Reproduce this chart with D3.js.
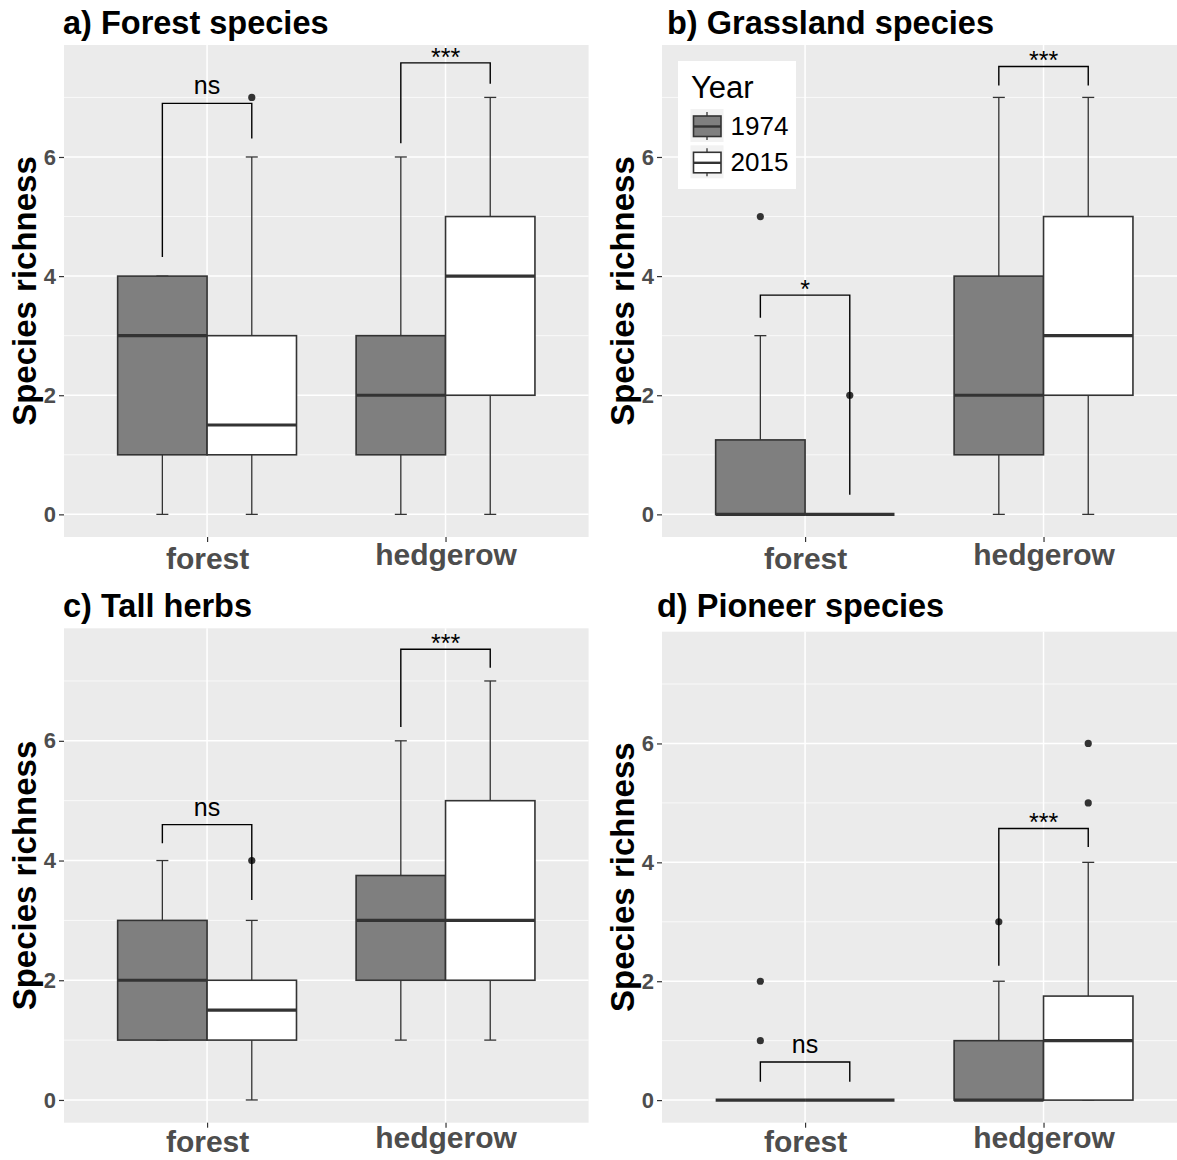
<!DOCTYPE html>
<html>
<head>
<meta charset="utf-8">
<script src="https://cdn.jsdelivr.net/npm/d3@7"></script>
<style>
  body { margin: 0; background: #fff; }
  svg { display: block; font-family: "Liberation Sans", Arial, sans-serif; }
</style>
</head>
<body>
<div id="chart"></div>
<script>
// ---- data ----
const categories = ["forest", "hedgerow"];
const years = ["1974", "2015"];
const panelTitles = ["a) Forest species", "b) Grassland species", "c) Tall herbs", "d) Pioneer species"];
const yTicks = [0, 2, 4, 6];
const yMinor = [1, 3, 5, 7];
const yLabel = "Species richness";
const legendTitle = "Year";

// box stats [min, q1, median, q3, max] : forest-1974, forest-2015, hedgerow-1974, hedgerow-2015
const forestSpecies = [[0, 1, 3, 4, 4], [0, 1, 1.5, 3, 6], [0, 1, 2, 3, 6], [0, 2, 4, 5, 7]];
const forestOutliers = [[], [7], [], []];
const grasslandSpecies = [[0, 0, 0, 1.25, 3], [0, 0, 0, 0, 0], [0, 1, 2, 4, 7], [0, 2, 3, 5, 7]];
const grasslandOutliers = [[5], [2], [], []];
const tallHerbs = [[1, 1, 2, 3, 4], [0, 1, 1.5, 2, 3], [1, 2, 3, 3.75, 6], [1, 2, 3, 5, 7]];
const tallHerbsOutliers = [[], [4], [], []];
const pioneerSpecies = [[0, 0, 0, 0, 0], [0, 0, 0, 0, 0], [0, 0, 0, 1, 2], [0, 0, 1, 1.75, 4]];
const pioneerOutliers = [[1, 2], [], [3], [5, 6]];

// significance brackets [category, top, left tip, right tip, label]
const forestBrackets = [["forest", 6.9, 4.32, 6.31, "ns"], ["hedgerow", 7.58, 6.23, 7.23, "***"]];
const grasslandBrackets = [["forest", 3.68, 3.3, 0.33, "*"], ["hedgerow", 7.52, 7.2, 7.2, "***"]];
const tallHerbBrackets = [["forest", 4.6, 4.29, 3.34, "ns"], ["hedgerow", 7.53, 6.23, 7.22, "***"]];
const pioneerBrackets = [["forest", 0.64, 0.31, 0.31, "ns"], ["hedgerow", 4.57, 2.26, 4.26, "***"]];

const panels = [
  { title: panelTitles[0], stats: forestSpecies, outliers: forestOutliers, brackets: forestBrackets },
  { title: panelTitles[1], stats: grasslandSpecies, outliers: grasslandOutliers, brackets: grasslandBrackets, legend: true },
  { title: panelTitles[2], stats: tallHerbs, outliers: tallHerbsOutliers, brackets: tallHerbBrackets },
  { title: panelTitles[3], stats: pioneerSpecies, outliers: pioneerOutliers, brackets: pioneerBrackets }
];

// ---- layout ----
const width = 1177;
const height = 1160;
const yDomain = [-0.38, 7.88];
const fills = { "1974": "#7f7f7f", "2015": "#ffffff" };
const boxStroke = "#333333";

const layout = [
  { x0: 64, x1: 588.6, y0: 45, y1: 537, tx: 63, ty: 34, xlab: 569 },
  { x0: 662, x1: 1186.6, y0: 45, y1: 537, tx: 667, ty: 34, xlab: 569 },
  { x0: 64, x1: 588.6, y0: 628.3, y1: 1122.7, tx: 63, ty: 617, xlab: 1152 },
  { x0: 662, x1: 1186.6, y0: 631.7, y1: 1122.7, tx: 657, ty: 617, xlab: 1152 }
];

const svg = d3.select("#chart")
  .append("svg")
  .attr("width", width)
  .attr("height", height);

panels.forEach((p, i) => {
  const L = layout[i];
  const g = svg.append("g");

  const x = d3.scalePoint()
    .domain(categories)
    .range([L.x0, L.x1])
    .padding(0.6);

  const dodge = d3.scaleBand()
    .domain(years)
    .range([-0.375 * x.step(), 0.375 * x.step()]);

  const y = d3.scaleLinear()
    .domain(yDomain)
    .range([L.y1, L.y0]);

  const cx = (cat, yr) => x(cat) + dodge(yr) + dodge.bandwidth() / 2;

  // panel background and grid
  g.append("rect")
    .attr("x", L.x0).attr("y", L.y0)
    .attr("width", L.x1 - L.x0).attr("height", L.y1 - L.y0)
    .attr("fill", "#ebebeb");

  g.append("g").selectAll("line")
    .data(yMinor)
    .join("line")
      .attr("x1", L.x0).attr("x2", L.x1)
      .attr("y1", d => y(d)).attr("y2", d => y(d))
      .attr("stroke", "#fff").attr("stroke-width", 0.7);

  g.append("g").selectAll("line")
    .data(yTicks)
    .join("line")
      .attr("x1", L.x0).attr("x2", L.x1)
      .attr("y1", d => y(d)).attr("y2", d => y(d))
      .attr("stroke", "#fff").attr("stroke-width", 1.5);

  g.append("g").selectAll("line")
    .data(categories)
    .join("line")
      .attr("x1", d => x(d)).attr("x2", d => x(d))
      .attr("y1", L.y0).attr("y2", L.y1)
      .attr("stroke", "#fff").attr("stroke-width", 1.5);

  // axes
  const yAxis = g.append("g")
    .attr("transform", `translate(${L.x0},0)`)
    .call(d3.axisLeft(y).tickValues(yTicks).tickSize(5).tickPadding(3));
  yAxis.select(".domain").remove();
  yAxis.selectAll("line").attr("stroke", "#333").attr("stroke-width", 1.2);
  yAxis.selectAll("text")
    .attr("fill", "#4d4d4d")
    .attr("font-size", 22)
    .attr("font-weight", "bold")
    .attr("font-family", null);

  const xAxis = g.append("g")
    .attr("transform", `translate(0,${L.y1})`)
    .call(d3.axisBottom(x).tickSize(5));
  xAxis.select(".domain").remove();
  xAxis.selectAll("line").attr("stroke", "#333").attr("stroke-width", 1.2);
  xAxis.selectAll("text")
    .attr("fill", "#4d4d4d")
    .attr("font-size", 30)
    .attr("font-weight", "bold")
    .attr("font-family", null)
    .attr("y", L.xlab - L.y1)
    .attr("dy", d => /[gjpqy]/.test(d) ? -4 : 0);

  // axis title and panel title
  g.append("text")
    .attr("transform", `translate(${L.x0 - 28},${(L.y0 + L.y1) / 2}) rotate(-90)`)
    .attr("text-anchor", "middle")
    .attr("font-size", 33)
    .attr("font-weight", "bold")
    .text(yLabel);

  g.append("text")
    .attr("x", L.tx).attr("y", L.ty)
    .attr("font-size", 32.5)
    .attr("font-weight", "bold")
    .text(p.title);

  // box records
  const boxes = [];
  categories.forEach((cat, ci) => {
    years.forEach((yr, yi) => {
      const s = p.stats[ci * 2 + yi];
      boxes.push({ cat, yr, min: s[0], q1: s[1], med: s[2], q3: s[3], max: s[4], out: p.outliers[ci * 2 + yi] });
    });
  });

  const capW = 12;
  // error bars (whiskers + caps)
  const eb = g.append("g").attr("stroke", boxStroke).attr("stroke-width", 1.3);
  eb.selectAll(".w")
    .data(boxes)
    .join("line")
      .attr("x1", d => cx(d.cat, d.yr)).attr("x2", d => cx(d.cat, d.yr))
      .attr("y1", d => y(d.min)).attr("y2", d => y(d.max));
  eb.selectAll(".cmin")
    .data(boxes)
    .join("line")
      .attr("x1", d => cx(d.cat, d.yr) - capW / 2).attr("x2", d => cx(d.cat, d.yr) + capW / 2)
      .attr("y1", d => y(d.min)).attr("y2", d => y(d.min));
  eb.selectAll(".cmax")
    .data(boxes)
    .join("line")
      .attr("x1", d => cx(d.cat, d.yr) - capW / 2).attr("x2", d => cx(d.cat, d.yr) + capW / 2)
      .attr("y1", d => y(d.max)).attr("y2", d => y(d.max));

  // boxes
  g.append("g").selectAll("rect")
    .data(boxes)
    .join("rect")
      .attr("x", d => x(d.cat) + dodge(d.yr))
      .attr("y", d => y(d.q3))
      .attr("width", dodge.bandwidth())
      .attr("height", d => y(d.q1) - y(d.q3))
      .attr("fill", d => fills[d.yr])
      .attr("stroke", boxStroke)
      .attr("stroke-width", 1.6);

  g.append("g").selectAll("line")
    .data(boxes)
    .join("line")
      .attr("x1", d => x(d.cat) + dodge(d.yr))
      .attr("x2", d => x(d.cat) + dodge(d.yr) + dodge.bandwidth())
      .attr("y1", d => y(d.med)).attr("y2", d => y(d.med))
      .attr("stroke", boxStroke)
      .attr("stroke-width", 3.2);

  // outliers
  const outPts = boxes.flatMap(d => d.out.map(v => ({ cat: d.cat, yr: d.yr, v })));
  g.append("g").selectAll("circle")
    .data(outPts)
    .join("circle")
      .attr("cx", d => cx(d.cat, d.yr))
      .attr("cy", d => y(d.v))
      .attr("r", 3.6)
      .attr("fill", "#333");

  // significance brackets
  const sig = g.append("g");
  sig.selectAll("path")
    .data(p.brackets)
    .join("path")
      .attr("d", d => `M${cx(d[0], years[0])},${y(d[2])}V${y(d[1])}H${cx(d[0], years[1])}V${y(d[3])}`)
      .attr("fill", "none")
      .attr("stroke", "#000")
      .attr("stroke-width", 1.4);
  sig.selectAll("text")
    .data(p.brackets)
    .join("text")
      .attr("x", d => x(d[0]))
      .attr("y", d => y(d[1]) + (d[4].includes("*") ? 3 : -9))
      .attr("text-anchor", "middle")
      .attr("font-size", 25)
      .text(d => d[4]);

  // legend
  if (p.legend) {
    const lg = g.append("g");
    lg.append("rect")
      .attr("x", 678).attr("y", 61)
      .attr("width", 118).attr("height", 128)
      .attr("fill", "#fff");
    lg.append("text")
      .attr("x", 691).attr("y", 98)
      .attr("font-size", 31)
      .text(legendTitle);
    const keys = lg.selectAll(".key")
      .data(years)
      .join("g")
        .attr("transform", (d, k) => `translate(690.5,${109 + k * 36.3})`);
    keys.append("rect")
      .attr("width", 33).attr("height", 33)
      .attr("fill", "#f2f2f2");
    keys.append("line")
      .attr("x1", 16.5).attr("x2", 16.5)
      .attr("y1", 3).attr("y2", 31)
      .attr("stroke", boxStroke).attr("stroke-width", 1.3);
    keys.append("rect")
      .attr("x", 3).attr("y", 7)
      .attr("width", 27.5).attr("height", 20.5)
      .attr("fill", d => fills[d])
      .attr("stroke", boxStroke).attr("stroke-width", 1.6);
    keys.append("line")
      .attr("x1", 3).attr("x2", 30.5)
      .attr("y1", 17.5).attr("y2", 17.5)
      .attr("stroke", boxStroke).attr("stroke-width", 2.4);
    keys.append("text")
      .attr("x", 40).attr("y", 26)
      .attr("font-size", 26)
      .text(d => d);
  }
});
</script>
</body>
</html>
